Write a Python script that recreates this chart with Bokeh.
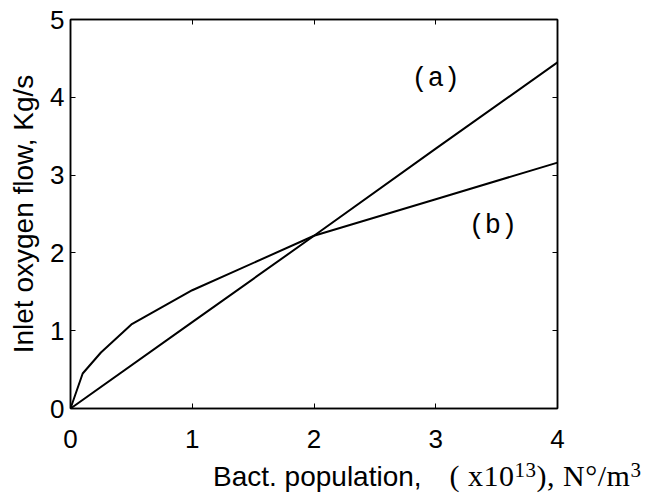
from bokeh.plotting import figure
from bokeh.models import Range1d, FixedTicker, LinearAxis, Label, Div
from bokeh.layouts import column
from bokeh.embed import file_html
from bokeh.resources import INLINE

# Data
x_a = [0, 1, 2, 3, 4]
y_a = [0, 1.11, 2.22, 3.34, 4.45]

x_b = [0, 0.1, 0.25, 0.5, 1.0, 2.0, 3.0, 4.0]
y_b = [0, 0.45, 0.72, 1.08, 1.52, 2.22, 2.69, 3.16]

x_ticks = [0, 1, 2, 3, 4]
y_ticks = [0, 1, 2, 3, 4, 5]

y_title = "Inlet oxygen flow, Kg/s"
x_title_sans = "Bact. population,"
x_title_serif_parts = ["( x10", "13", "), N\u00b0/m", "3"]
series_labels = ["(a)", "(b)"]

p = figure(width=652, height=462, output_backend="svg", toolbar_location=None,
           x_range=Range1d(0, 4), y_range=Range1d(0, 5),
           min_border_left=70, min_border_right=95,
           min_border_top=19, min_border_bottom=54)

p.background_fill_color = "white"
p.border_fill_color = "white"
p.grid.visible = False
p.outline_line_color = "black"
p.outline_line_width = 1.5

for ax in p.xaxis + p.yaxis:
    ax.axis_line_color = "black"
    ax.axis_line_width = 1.5
    ax.major_tick_in = 5
    ax.major_tick_out = 0
    ax.minor_tick_line_color = None
    ax.major_tick_line_color = "black"
    ax.major_tick_line_width = 1
    ax.major_label_text_font = "Liberation Sans"
    ax.major_label_text_font_size = "26px"
    ax.major_label_text_color = "black"

p.xaxis.ticker = FixedTicker(ticks=x_ticks)
p.yaxis.ticker = FixedTicker(ticks=y_ticks)
p.xaxis.major_label_standoff = 21
p.yaxis.major_label_standoff = 6

p.yaxis.axis_label = y_title
p.yaxis.axis_label_text_font = "Liberation Sans"
p.yaxis.axis_label_text_font_size = "28px"
p.yaxis.axis_label_text_font_style = "normal"
p.yaxis.axis_label_text_color = "black"
p.yaxis.axis_label_standoff = 8

# right and top axes: inward ticks only, no labels drawn
for loc, ticks in (("right", y_ticks), ("above", x_ticks)):
    ax = LinearAxis(ticker=FixedTicker(ticks=ticks))
    ax.major_label_text_color = None
    ax.major_label_text_font_size = "10px"
    ax.major_label_standoff = 0
    ax.axis_line_color = "black"
    ax.axis_line_width = 1.5
    ax.major_tick_in = 5
    ax.major_tick_out = 0
    ax.minor_tick_line_color = None
    p.add_layout(ax, loc)

p.line(x_a, y_a, line_color="black", line_width=2)
p.line(x_b, y_b, line_color="black", line_width=2)

p.add_layout(Label(x=3.0, y=4.24, text=series_labels[0], text_font="Liberation Mono",
                   text_font_size="27px", text_align="center",
                   text_baseline="middle", text_color="black"))
p.add_layout(Label(x=3.47, y=2.35, text=series_labels[1], text_font="Liberation Mono",
                   text_font_size="27px", text_align="center",
                   text_baseline="middle", text_color="black"))

sup = ('<span style="font-size:21px; position:relative; top:-9px;">{}</span>')
html = (
    '<div style="position:relative; width:652px; height:33px; overflow:visible;">'
    '<div style="position:absolute; left:213px; top:0px; white-space:nowrap; '
    'line-height:28px; color:black;">'
    '<span style="font-family:\'Liberation Sans\'; font-size:28px;">' + x_title_sans + '</span>'
    '<span style="font-family:\'Liberation Serif\'; font-size:30px; margin-left:28px; '
    'letter-spacing:0.5px;">'
    + x_title_serif_parts[0] + sup.format(x_title_serif_parts[1])
    + x_title_serif_parts[2] + sup.format(x_title_serif_parts[3]) +
    '</span></div></div>'
)
div = Div(text=html, width=652, height=33, margin=0, styles={"overflow": "visible"})

layout = column(p, div, spacing=0)

open("out.html", "w").write(file_html(layout, INLINE))
